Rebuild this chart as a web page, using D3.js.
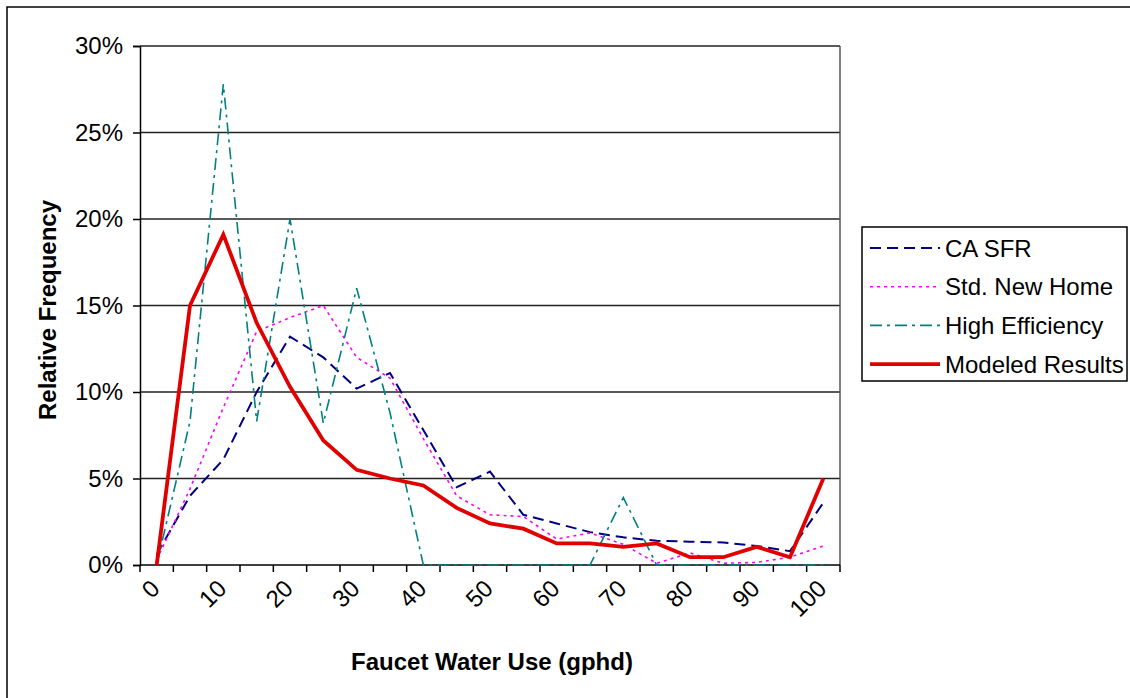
<!DOCTYPE html>
<html>
<head>
<meta charset="utf-8">
<script src="https://cdn.jsdelivr.net/npm/d3@7"></script>
<style>
  body { margin: 0; background: #fff; }
  text { font-family: "Liberation Sans", Arial, sans-serif; }
</style>
</head>
<body>
<svg id="chart" width="1130" height="698"></svg>
<script>
// categories on the x axis (gphd)
const categories = [0, 5, 10, 15, 20, 25, 30, 35, 40, 45, 50, 55, 60, 65, 70, 75, 80, 85, 90, 95, 100];
const labelCats = [0, 10, 20, 30, 40, 50, 60, 70, 80, 90, 100];
const yTicks = [0, 0.05, 0.10, 0.15, 0.20, 0.25, 0.30];

// relative frequency, in percent
const caSFR = [0.6, 4.0, 6.1, 10.0, 13.2, 12.0, 10.2, 11.1, 7.8, 4.5, 5.4, 2.9, 2.4, 1.9, 1.6, 1.4, 1.35, 1.3, 1.1, 0.8, 3.6];
const stdNewHome = [0.3, 4.4, 9.1, 13.5, 14.3, 15.0, 12.0, 10.8, 7.3, 4.0, 2.9, 2.8, 1.5, 1.85, 1.2, 0.1, 0.7, 0.1, 0.15, 0.45, 1.1];
const highEff = [0, 8.3, 27.8, 8.3, 20.0, 8.2, 16.0, 8.8, 0, 0, 0, 0, 0, 0, 3.9, 0, 0, 0, 0, 0, 0];
const modeled = [0, 15.0, 19.1, 14.0, 10.3, 7.2, 5.5, 5.0, 4.6, 3.3, 2.4, 2.1, 1.25, 1.25, 1.05, 1.25, 0.45, 0.45, 1.05, 0.45, 5.0];

const seriesNames = ["CA SFR", "Std. New Home", "High Efficiency", "Modeled Results"];
const seriesValues = [caSFR, stdNewHome, highEff, modeled];

// styles
const styles = [
  { color: "#000080", width: 2, dash: "11,6" },
  { color: "#ff00ff", width: 1.6, dash: "3,4" },
  { color: "#008080", width: 1.6, dash: "12,5,3,5" },
  { color: "#e00000", width: 3.8, dash: null }
];

const plot = { left: 140, right: 840, top: 46, bottom: 565 };
const fontSize = 24;

const svg = d3.select("#chart");

// outer frame
svg.append("rect")
  .attr("x", 7).attr("y", 7)
  .attr("width", 1140).attr("height", 710)
  .attr("fill", "none").attr("stroke", "#000").attr("stroke-width", 1.5);

const xBand = d3.scaleBand().domain(categories).range([plot.left, plot.right]);
const xPoint = d3.scalePoint().domain(categories).range([plot.left, plot.right]).padding(0.5);
const y = d3.scaleLinear().domain([0, 0.30]).range([plot.bottom, plot.top]);

// gridlines
svg.append("g")
  .selectAll("line")
  .data(yTicks.slice(1))
  .enter()
  .append("line")
  .attr("x1", plot.left).attr("x2", plot.right)
  .attr("y1", d => y(d)).attr("y2", d => y(d))
  .attr("stroke", "#222").attr("stroke-width", 1.5);

// right border of plot area
svg.append("line")
  .attr("x1", plot.right).attr("x2", plot.right)
  .attr("y1", plot.top).attr("y2", plot.bottom)
  .attr("stroke", "#555").attr("stroke-width", 1.5);

// y axis
const yAxis = svg.append("g")
  .attr("transform", `translate(${plot.left},0)`)
  .call(d3.axisLeft(y).tickValues(yTicks).tickFormat(d3.format(".0%")).tickSize(7).tickPadding(10));
yAxis.select(".domain").attr("stroke", "#000").attr("stroke-width", 1.5);
yAxis.selectAll(".tick line").attr("stroke", "#000").attr("stroke-width", 1.5);
yAxis.selectAll("text").attr("font-size", fontSize).attr("fill", "#000")
  .attr("font-family", "Liberation Sans, Arial, sans-serif");

// x axis line and ticks between categories
svg.append("line")
  .attr("x1", plot.left).attr("x2", plot.right)
  .attr("y1", plot.bottom).attr("y2", plot.bottom)
  .attr("stroke", "#000").attr("stroke-width", 1.5);
const tickPos = categories.map(c => xBand(c)).concat([plot.right]);
svg.append("g")
  .selectAll("line")
  .data(tickPos)
  .enter()
  .append("line")
  .attr("x1", d => d).attr("x2", d => d)
  .attr("y1", plot.bottom).attr("y2", plot.bottom + 7)
  .attr("stroke", "#000").attr("stroke-width", 1.5);

// x labels, rotated
const xAxis = svg.append("g")
  .attr("transform", `translate(0,${plot.bottom})`)
  .call(d3.axisBottom(xPoint).tickValues(labelCats).tickSize(0).tickPadding(0));
xAxis.select(".domain").remove();
xAxis.selectAll("text")
  .attr("font-size", fontSize).attr("fill", "#000")
  .attr("font-family", "Liberation Sans, Arial, sans-serif")
  .attr("text-anchor", "end")
  .attr("dy", null)
  .attr("transform", "translate(-2,19) rotate(-45)")
  .attr("y", 0).attr("x", 0)
  .attr("dominant-baseline", "central");

// series lines
const line = d3.line()
  .x((d, i) => xPoint(categories[i]))
  .y(d => y(d / 100));

svg.append("g")
  .selectAll("path")
  .data(seriesValues)
  .enter()
  .append("path")
  .attr("d", d => line(d))
  .attr("fill", "none")
  .attr("stroke", (d, i) => styles[i].color)
  .attr("stroke-width", (d, i) => styles[i].width)
  .attr("stroke-dasharray", (d, i) => styles[i].dash)
  .attr("stroke-linejoin", "miter");

// axis titles
svg.append("text")
  .attr("x", 492).attr("y", 670)
  .attr("text-anchor", "middle")
  .attr("font-size", fontSize).attr("font-weight", "bold")
  .text("Faucet Water Use (gphd)");

svg.append("text")
  .attr("transform", "translate(56,310) rotate(-90)")
  .attr("text-anchor", "middle")
  .attr("font-size", fontSize).attr("font-weight", "bold")
  .text("Relative Frequency");

// legend
const legend = svg.append("g").attr("transform", "translate(862,227)");
legend.append("rect")
  .attr("width", 265).attr("height", 154)
  .attr("fill", "#fff").attr("stroke", "#000").attr("stroke-width", 1.5);
const items = legend.selectAll("g.item")
  .data(seriesNames)
  .enter()
  .append("g")
  .attr("class", "item")
  .attr("transform", (d, i) => `translate(0,${21 + i * 38.7})`);
items.append("line")
  .attr("x1", 8).attr("x2", 78)
  .attr("stroke", (d, i) => styles[i].color)
  .attr("stroke-width", (d, i) => styles[i].width)
  .attr("stroke-dasharray", (d, i) => styles[i].dash);
items.append("text")
  .attr("x", 83).attr("y", 0)
  .attr("dominant-baseline", "central")
  .attr("font-size", fontSize)
  .text(d => d);
</script>
</body>
</html>
